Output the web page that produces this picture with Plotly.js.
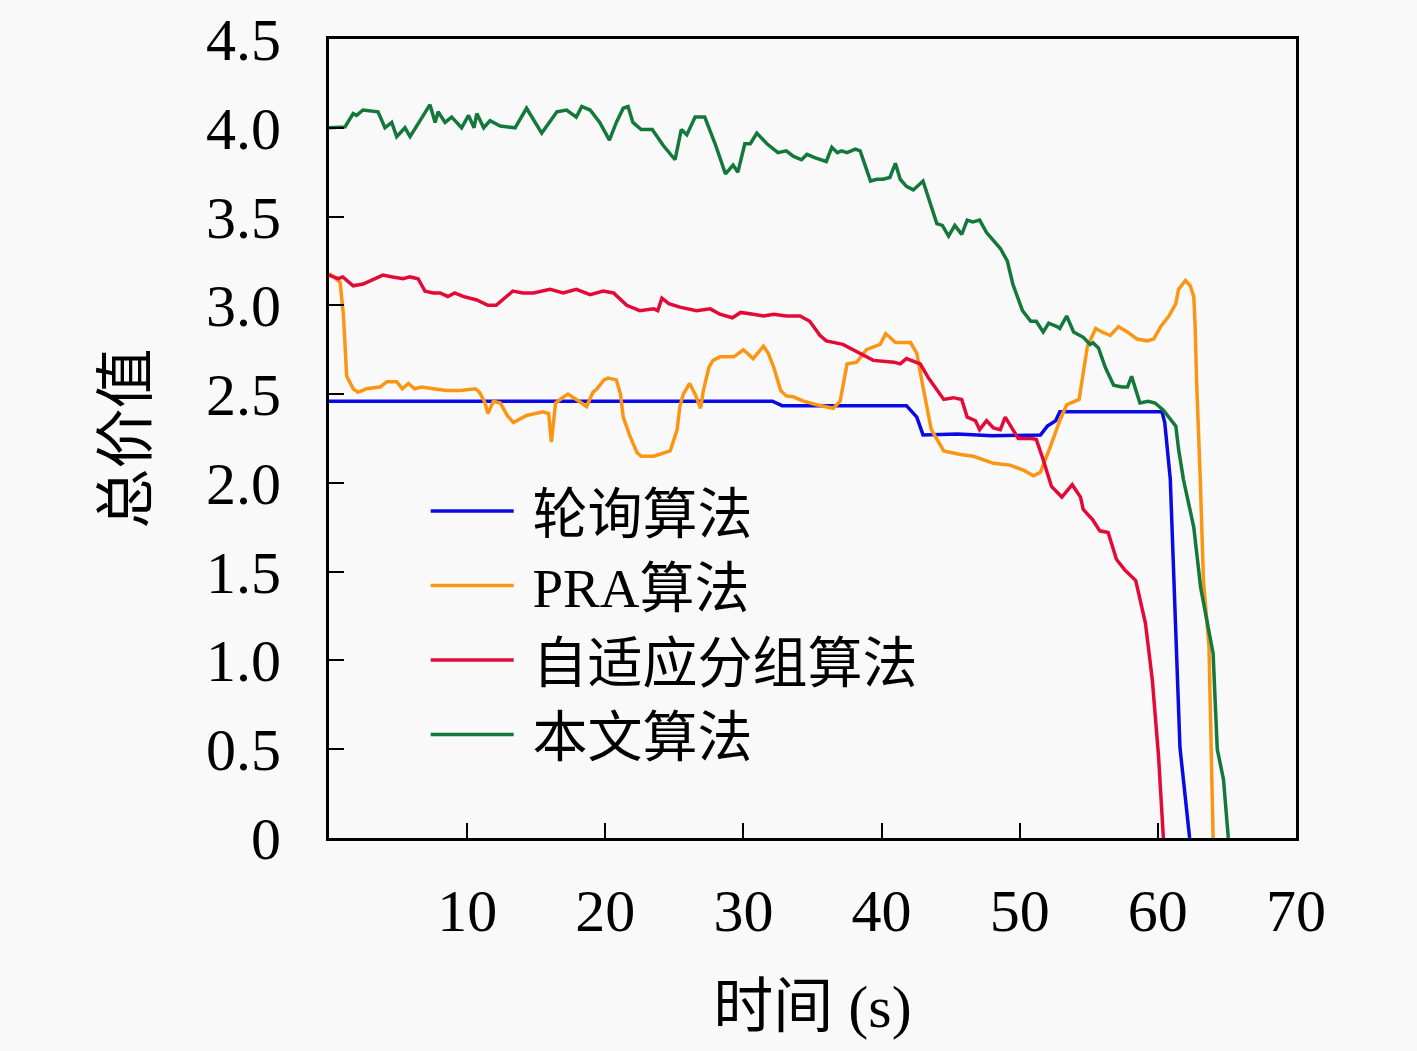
<!DOCTYPE html>
<html>
<head>
<meta charset="utf-8">
<script src="https://cdn.plot.ly/plotly-3.0.1.min.js"></script>
<style>
  body { margin: 0; background: #f9f9f9; }
  #myDiv { width: 1417px; height: 1051px; }
</style>
</head>
<body>
<div id="myDiv"></div>
<script>
// values, time in s, total value
var seriesNames = ['轮询算法', 'PRA算法', '自适应分组算法', '本文算法'];

var xPoll = [0, 32.1, 32.8, 41.8, 42.55, 43.0, 45.5, 48.0, 51.5, 52.0, 52.6, 52.9, 60.3, 60.5, 60.9, 61.6, 62.3];
var yPoll = [2.46, 2.46, 2.435, 2.435, 2.37, 2.27, 2.275, 2.265, 2.27, 2.32, 2.35, 2.40, 2.40, 2.34, 2.02, 0.51, 0];

var xPra = [0, 0.8, 1.04, 1.28, 1.76, 2.1, 2.7, 3.7, 4.2, 4.9, 5.3, 5.75, 6.2, 6.7, 7.55, 8.5, 9.5, 10.6, 10.9,
    11.3, 11.5, 11.9, 12.4, 12.9, 13.35, 14.3, 15.5, 15.9, 16.1, 16.4, 17.0, 17.3, 17.9, 18.65, 19.1, 19.4,
    19.9, 20.2, 20.8, 21.1, 21.3, 21.8, 22.3, 22.6, 23.5, 24.7, 25.2, 25.4, 25.65, 26.1, 26.5, 26.9, 27.1,
    27.5, 27.8, 28.3, 29.3, 30.0, 30.7, 31.45, 31.8, 32.2, 32.7, 33.1, 33.6, 34.35, 35.3, 36.5, 37.0, 37.5,
    38.2, 38.9, 39.9, 40.3, 40.6, 41.0, 42.1, 42.55, 43.0, 43.6, 44.5, 45.7, 46.65, 48.1, 49.3, 50.3, 51.0,
    51.5, 52.2, 52.9, 53.4, 54.3, 54.9, 55.5, 55.95, 56.55, 57.15, 57.8, 58.5, 59.2, 59.7, 60.2, 60.8, 61.3,
    61.5, 62.0, 62.35, 62.6, 62.7, 62.8, 63.07, 63.3, 63.7, 64.0];
var yPra = [3.18, 3.13, 2.95, 2.60, 2.53, 2.51, 2.53, 2.54, 2.57, 2.57, 2.53, 2.56, 2.53, 2.54, 2.53, 2.52, 2.52, 2.53, 2.51,
    2.45, 2.39, 2.46, 2.45, 2.38, 2.34, 2.38, 2.40, 2.39, 2.23, 2.45, 2.485, 2.50, 2.47, 2.43, 2.51, 2.53,
    2.58, 2.59, 2.58, 2.50, 2.37, 2.26, 2.17, 2.15, 2.15, 2.18, 2.30, 2.43, 2.50, 2.56, 2.50, 2.42, 2.52,
    2.65, 2.69, 2.71, 2.71, 2.75, 2.70, 2.77, 2.73, 2.65, 2.52, 2.49, 2.485, 2.46, 2.44, 2.42, 2.46, 2.67,
    2.68, 2.75, 2.78, 2.84, 2.82, 2.79, 2.79, 2.73, 2.54, 2.30, 2.18, 2.16, 2.15, 2.11, 2.10, 2.07, 2.04,
    2.06, 2.20, 2.35, 2.44, 2.47, 2.77, 2.87, 2.85, 2.83, 2.88, 2.85, 2.81, 2.80, 2.81, 2.88, 2.94, 3.01,
    3.09, 3.14, 3.11, 3.05, 2.88, 2.58, 2.02, 1.45, 1.08, 0];

var xAdaptive = [0, 0.67, 1.0, 1.75, 2.47, 3.9, 4.6, 5.36, 5.86, 6.45, 6.95, 7.55, 8.04, 8.6, 9.1, 9.7, 10.7, 11.5,
    12.1, 13.3, 14.05, 14.8, 16.0, 16.95, 17.9, 18.9, 19.85, 20.6, 21.55, 22.5, 23.5, 23.8, 24.1, 24.6, 25.4,
    26.6, 27.6, 28.3, 29.2, 29.8, 30.7, 31.45, 32.2, 33.1, 34.1, 34.8, 35.55, 36.0, 37.2, 38.6, 39.4, 40.9,
    41.35, 41.8, 42.4, 42.8, 43.4, 44.5, 45.2, 45.8, 46.2, 46.8, 47.1, 47.6, 48.1, 48.6, 48.95, 49.4, 49.9,
    50.8, 51.2, 51.7, 52.3, 53.05, 53.8, 54.4, 54.6, 55.3, 55.8, 56.4, 57.0, 57.6, 58.4, 59.1, 59.6, 60.05, 60.4];
var yAdaptive = [3.17, 3.15, 3.16, 3.11, 3.12, 3.17, 3.16, 3.15, 3.16, 3.15, 3.08, 3.07, 3.07, 3.05, 3.07, 3.05, 3.03, 3.00,
    3.00, 3.08, 3.07, 3.07, 3.09, 3.07, 3.09, 3.06, 3.08, 3.07, 3.00, 2.97, 2.98, 2.97, 3.04, 3.01, 2.99,
    2.97, 2.98, 2.95, 2.93, 2.96, 2.95, 2.94, 2.95, 2.94, 2.94, 2.91, 2.83, 2.80, 2.78, 2.72, 2.69, 2.68,
    2.67, 2.70, 2.68, 2.67, 2.59, 2.47, 2.48, 2.47, 2.37, 2.35, 2.30, 2.35, 2.31, 2.30, 2.37, 2.31, 2.25,
    2.25, 2.245, 2.13, 1.98, 1.92, 1.99, 1.92, 1.85, 1.79, 1.73, 1.72, 1.57, 1.51, 1.45, 1.21, 0.89, 0.46, 0];

var xOurs = [0, 1.16, 1.75, 2.0, 2.46, 3.55, 4.05, 4.54, 4.9, 5.5, 5.87, 6.35, 6.8, 7.31, 7.68, 7.9, 8.4, 8.88, 9.6,
    10.1, 10.5, 10.7, 11.2, 11.66, 12.4, 13.47, 14.3, 15.4, 16.5, 17.2, 17.9, 18.3, 18.9, 19.6, 20.3, 20.8,
    21.3, 21.65, 22.0, 22.6, 23.4, 24.2, 25.05, 25.5, 25.9, 26.5, 27.2, 27.95, 28.7, 29.25, 29.6, 30.1, 30.5,
    30.97, 31.7, 32.5, 33.1, 33.6, 34.2, 34.6, 35.2, 36.0, 36.4, 36.8, 37.1, 37.5, 38.1, 38.45, 39.2, 39.66,
    40.1, 40.6, 41.0, 41.35, 41.8, 42.3, 43.0, 44.0, 44.4, 44.85, 45.3, 45.8, 46.2, 46.6, 47.1, 47.6, 48.6,
    49.1, 49.5, 50.2, 50.8, 51.2, 51.7, 52.1, 52.7, 52.9, 53.4, 53.9, 54.6, 55.1, 55.3, 55.7, 56.2, 56.8,
    57.4, 57.8, 58.1, 58.7, 59.3, 59.8, 60.4, 60.9, 61.3, 61.5, 61.85, 62.6, 63.1, 64.0, 64.3, 64.75, 65.1];
var yOurs = [4.00, 4.005, 4.08, 4.07, 4.10, 4.09, 4.00, 4.03, 3.95, 4.00, 3.95, 4.01, 4.07, 4.13, 4.03, 4.09, 4.03, 4.06, 4.00,
    4.07, 4.00, 4.08, 4.00, 4.04, 4.01, 4.00, 4.11, 3.97, 4.09, 4.10, 4.06, 4.12, 4.10, 4.03, 3.93, 4.03,
    4.11, 4.12, 4.03, 3.99, 3.99, 3.90, 3.82, 3.99, 3.96, 4.06, 4.06, 3.91, 3.74, 3.79, 3.75, 3.91, 3.91,
    3.97, 3.91, 3.86, 3.87, 3.84, 3.82, 3.85, 3.83, 3.81, 3.89, 3.86, 3.87, 3.86, 3.88, 3.87, 3.70, 3.71,
    3.71, 3.72, 3.80, 3.71, 3.67, 3.65, 3.70, 3.46, 3.45, 3.39, 3.45, 3.40, 3.48, 3.47, 3.48, 3.41, 3.32,
    3.25, 3.12, 2.97, 2.91, 2.91, 2.85, 2.90, 2.88, 2.87, 2.94, 2.85, 2.82, 2.78, 2.79, 2.76, 2.65, 2.55,
    2.54, 2.54, 2.60, 2.45, 2.46, 2.45, 2.41, 2.36, 2.32, 2.19, 2.02, 1.75, 1.41, 1.04, 0.50, 0.33, 0];

var xTicks = [10, 20, 30, 40, 50, 60, 70];
var yTicks = [0, 0.5, 1, 1.5, 2, 2.5, 3, 3.5, 4, 4.5];
var yTickText = ['0', '0.5', '1.0', '1.5', '2.0', '2.5', '3.0', '3.5', '4.0', '4.5'];

var colors = ['rgb(10, 10, 230)', 'rgb(250, 150, 20)', 'rgb(228, 10, 55)', 'rgb(20, 120, 60)'];
var serif = '"Liberation Serif", "Noto Sans CJK SC", serif';

function makeTrace(x, y, i) {
    return {
        type: 'scatter',
        mode: 'lines',
        x: x,
        y: y,
        // leading space keeps the text clear of the legend line
        name: ' ' + seriesNames[i],
        line: { color: colors[i], width: 3.5 }
    };
}

var data = [
    makeTrace(xPoll, yPoll, 0),
    makeTrace(xPra, yPra, 1),
    makeTrace(xAdaptive, yAdaptive, 2),
    makeTrace(xOurs, yOurs, 3)
];

var layout = {
    width: 1417,
    height: 1051,
    margin: { l: 329, r: 121, t: 39, b: 213 },
    paper_bgcolor: '#f9f9f9',
    plot_bgcolor: '#f9f9f9',
    font: { family: serif, size: 60, color: '#000' },
    showlegend: true,
    legend: {
        x: 0.1, y: 0.462,
        xanchor: 'left', yanchor: 'top',
        bgcolor: 'rgba(0,0,0,0)',
        font: { family: serif, size: 55, color: '#000' },
        itemwidth: 83
    },
    xaxis: {
        range: [0, 70],
        tickvals: xTicks,
        ticks: 'inside',
        ticklen: 15,
        tickwidth: 2,
        tickcolor: '#000',
        ticklabelstandoff: 18,
        showline: true,
        linewidth: 3,
        linecolor: '#000',
        mirror: true,
        showgrid: false,
        zeroline: false,
        tickfont: { family: serif, size: 60 },
        title: { text: '时间 (s)', font: { family: serif, size: 60 }, standoff: 42 }
    },
    yaxis: {
        range: [0, 4.5],
        tickvals: yTicks,
        ticktext: yTickText,
        ticks: 'inside',
        ticklen: 15,
        tickwidth: 2,
        tickcolor: '#000',
        ticklabelstandoff: 33,
        showline: true,
        linewidth: 3,
        linecolor: '#000',
        mirror: true,
        showgrid: false,
        zeroline: false,
        tickfont: { family: serif, size: 60 },
        title: { text: '总价值', font: { family: serif, size: 60 }, standoff: 40 }
    }
};

Plotly.newPlot('myDiv', data, layout, { displayModeBar: false });
</script>
</body>
</html>
